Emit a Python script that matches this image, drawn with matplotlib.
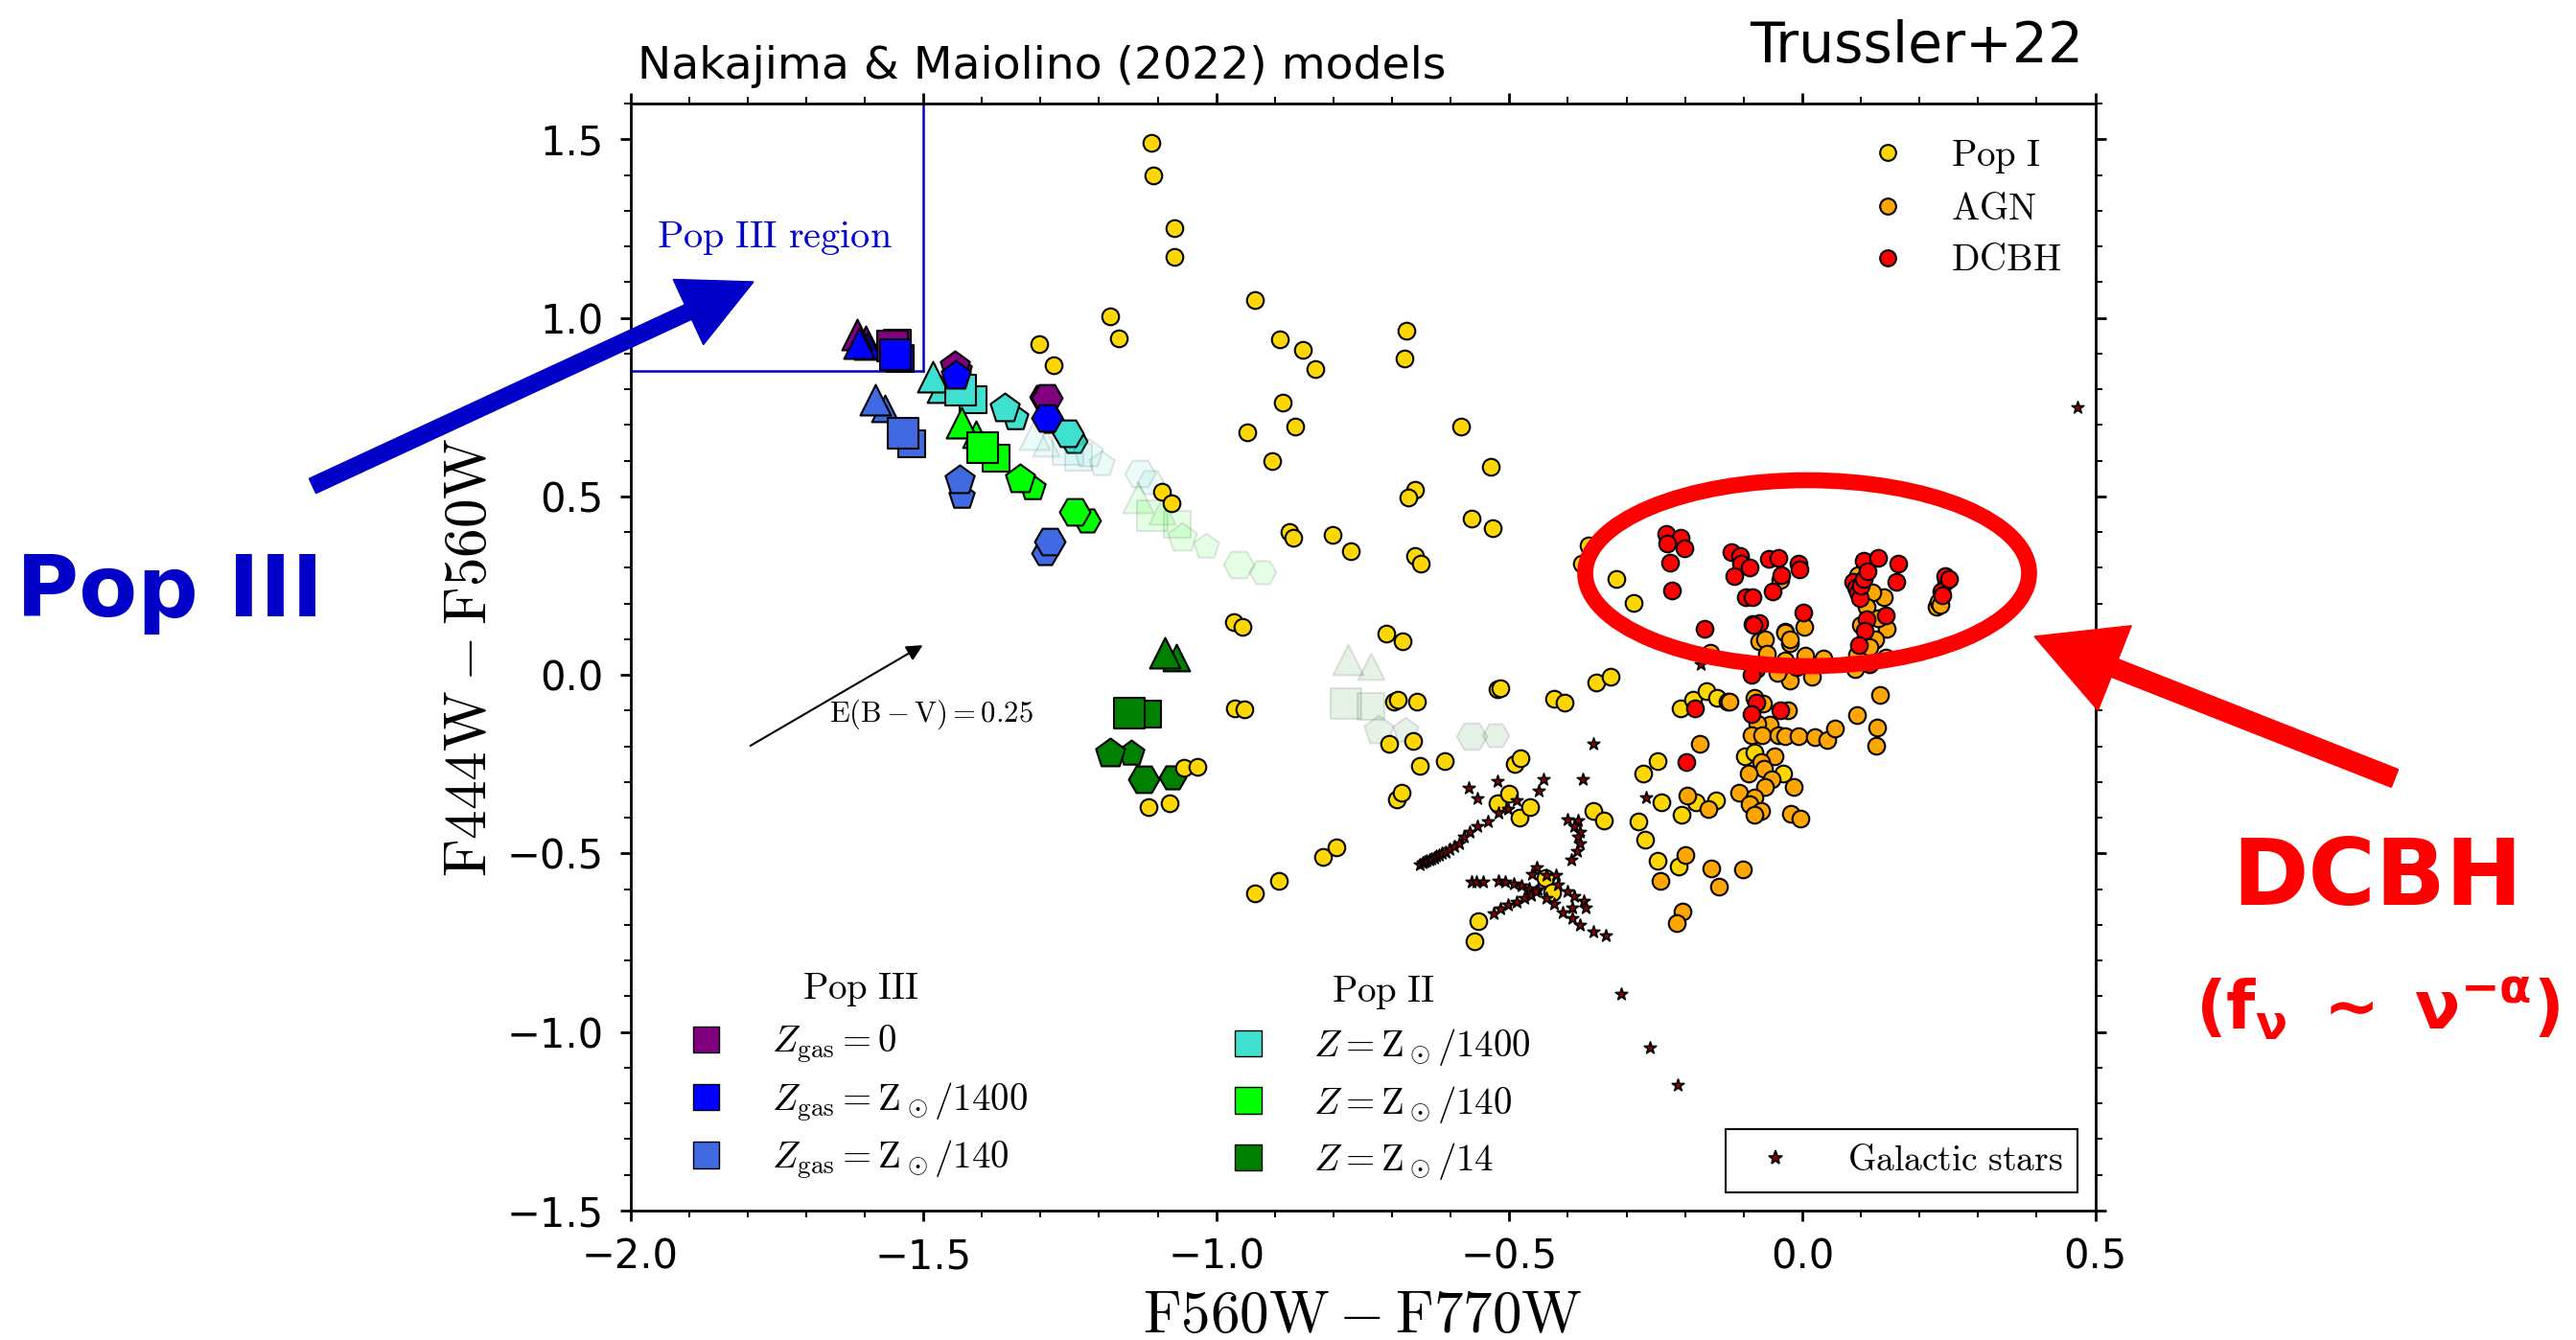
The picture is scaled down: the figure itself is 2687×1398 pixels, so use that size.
import numpy as np
import matplotlib.pyplot as plt
from matplotlib.patches import Ellipse, FancyArrow, Patch
from matplotlib.lines import Line2D
from matplotlib.ticker import MultipleLocator

plt.rcParams['mathtext.fontset'] = 'cm'

# --- model grids (Nakajima & Maiolino 2022); order of each list: triangle, square, pentagon, hexagon
MODEL_MARKERS = ['^', 's', 'p', 'H']

pop3_z0_main = [(-1.613, 0.952), (-1.553, 0.922), (-1.447, 0.865), (-1.289, 0.775)]
pop3_z0_alt = [(-1.598, 0.940), (-1.545, 0.930), (-1.440, 0.855), (-1.296, 0.780)]
pop3_z1400_main = [(-1.610, 0.929), (-1.548, 0.897), (-1.444, 0.839), (-1.289, 0.719)]
pop3_z1400_alt = [(-1.595, 0.920), (-1.540, 0.885), (-1.440, 0.830), (-1.283, 0.712)]
pop3_z140_main = [(-1.582, 0.772), (-1.534, 0.676), (-1.438, 0.546), (-1.284, 0.373)]
pop3_z140_alt = [(-1.565, 0.746), (-1.520, 0.648), (-1.434, 0.500), (-1.293, 0.340)]

pop2_z1400_main = [(-1.484, 0.834), (-1.436, 0.798), (-1.361, 0.746), (-1.253, 0.678)]
pop2_z1400_alt = [(-1.471, 0.800), (-1.415, 0.772), (-1.343, 0.721), (-1.243, 0.654)]
pop2_z140_main = [(-1.434, 0.705), (-1.399, 0.636), (-1.335, 0.549), (-1.241, 0.457)]
pop2_z140_alt = [(-1.411, 0.675), (-1.376, 0.608), (-1.314, 0.523), (-1.220, 0.433)]
pop2_z14_main = [(-1.088, 0.063), (-1.148, -0.107), (-1.181, -0.221), (-1.124, -0.293)]
pop2_z14_alt = [(-1.068, 0.050), (-1.118, -0.109), (-1.145, -0.219), (-1.075, -0.286)]

# faint (transparent) Pop II tracks
pop2_z1400_faint_main = [(-1.311, 0.674), (-1.253, 0.630), (-1.219, 0.620), (-1.130, 0.563)]
pop2_z1400_faint_alt = [(-1.290, 0.650), (-1.235, 0.610), (-1.196, 0.591), (-1.113, 0.540)]
pop2_z140_faint_main = [(-1.133, 0.497), (-1.110, 0.445), (-1.058, 0.384), (-0.962, 0.309)]
pop2_z140_faint_alt = [(-1.093, 0.460), (-1.067, 0.422), (-1.017, 0.361), (-0.921, 0.287)]
pop2_z14_faint_main = [(-0.775, 0.043), (-0.779, -0.080), (-0.723, -0.154), (-0.565, -0.172)]
pop2_z14_faint_alt = [(-0.737, 0.025), (-0.736, -0.087), (-0.677, -0.156), (-0.524, -0.169)]

# --- Trussler+22 points
pop1_pts = [
    (-1.111, 1.491), (-1.107, 1.400), (-1.072, 1.250), (-1.072, 1.172), (-0.934, 1.050),
    (-1.182, 1.003), (-1.166, 0.943), (-1.302, 0.926), (-1.278, 0.868), (-0.892, 0.941),
    (-0.853, 0.910), (-0.831, 0.857), (-0.676, 0.965), (-0.679, 0.885), (-0.886, 0.764),
    (-0.865, 0.696), (-0.947, 0.680), (-0.904, 0.600), (-0.583, 0.695), (-0.531, 0.582),
    (-0.661, 0.518), (-0.673, 0.498), (-0.564, 0.438), (-0.529, 0.410), (-1.093, 0.514),
    (-1.076, 0.482), (-0.875, 0.401), (-0.868, 0.384), (-0.802, 0.392), (-0.770, 0.346),
    (-0.661, 0.334), (-0.651, 0.312), (-0.970, 0.148), (-0.956, 0.135), (-0.710, 0.117),
    (-0.682, 0.095), (-0.521, -0.040), (-0.515, -0.036), (-0.968, -0.093), (-0.952, -0.097),
    (-0.697, -0.075), (-0.690, -0.069), (-0.658, -0.075), (-0.705, -0.193), (-0.665, -0.185),
    (-0.653, -0.255), (-0.611, -0.241), (-0.491, -0.250), (-0.481, -0.232), (-1.055, -0.259),
    (-1.032, -0.257), (-1.116, -0.370), (-1.080, -0.359), (-0.692, -0.349), (-0.684, -0.330),
    (-0.521, -0.360), (-0.501, -0.333), (-0.482, -0.400), (-0.464, -0.369), (-0.818, -0.510),
    (-0.795, -0.483), (-0.934, -0.611), (-0.893, -0.577), (-0.553, -0.689), (-0.560, -0.745),
    (-0.356, -0.381), (-0.338, -0.407), (-0.280, -0.409), (-0.269, -0.461), (-0.271, -0.275),
    (-0.247, -0.241), (-0.240, -0.357), (-0.206, -0.391), (-0.181, -0.357), (-0.148, -0.351),
    (-0.247, -0.521), (-0.211, -0.537), (-0.439, -0.570), (-0.427, -0.609), (-0.351, -0.020),
    (-0.327, -0.006), (-0.423, -0.067), (-0.405, -0.078), (-0.208, -0.094), (-0.187, -0.069),
    (-0.164, -0.044), (-0.146, -0.065), (-0.098, -0.228), (-0.081, -0.217), (-0.033, -0.275),
    (-0.318, 0.269), (-0.288, 0.203), (-0.365, 0.362), (-0.377, 0.313),
]

agn_pts = [
    (-0.157, 0.063), (-0.127, -0.076), (-0.175, -0.193), (-0.196, -0.338), (-0.161, -0.376),
    (-0.199, -0.503), (-0.242, -0.577), (-0.156, -0.542), (-0.142, -0.593), (-0.205, -0.662),
    (-0.214, -0.694), (-0.102, -0.545), (-0.074, 0.094), (-0.063, 0.099), (-0.029, 0.121),
    (-0.022, 0.088), (0.003, 0.135), (0.005, 0.054), (0.036, 0.045), (-0.029, 0.038),
    (-0.041, 0.010), (0.017, -0.005), (-0.022, -0.015), (-0.082, -0.065), (-0.067, -0.081),
    (-0.025, -0.098), (-0.055, -0.139), (-0.077, -0.136), (-0.087, -0.169), (-0.068, -0.169),
    (-0.041, -0.169), (-0.029, -0.172), (-0.006, -0.172), (0.022, -0.175), (0.043, -0.181),
    (0.055, -0.150), (-0.047, -0.228), (-0.070, -0.244), (-0.066, -0.262), (-0.052, -0.293),
    (-0.064, -0.313), (-0.015, -0.313), (-0.092, -0.275), (-0.108, -0.329), (-0.082, -0.342),
    (-0.090, -0.363), (-0.070, -0.382), (-0.082, -0.391), (-0.019, -0.389), (-0.003, -0.402),
    (0.093, -0.112), (0.127, -0.148), (0.126, -0.197), (0.132, -0.056), (0.142, 0.049),
    (0.093, 0.058), (0.090, 0.016), (0.144, 0.128), (0.123, 0.097), (0.139, 0.217),
    (0.125, 0.101), (0.115, 0.079), (0.229, 0.191), (0.232, 0.204), (-0.038, 0.267),
    (-0.030, 0.119), (-0.030, 0.040), (-0.042, 0.007), (-0.125, -0.075), (0.095, 0.280),
    (0.120, 0.230), (0.110, 0.190), (0.130, 0.160), (0.100, 0.140), (0.235, 0.195),
    (-0.022, 0.100), (-0.060, 0.060),
]

dcbh_pts = [
    (-0.233, 0.395), (-0.208, 0.385), (-0.231, 0.369), (-0.201, 0.354), (-0.225, 0.315),
    (-0.222, 0.236), (-0.167, 0.130), (-0.121, 0.344), (-0.107, 0.334), (-0.104, 0.311),
    (-0.090, 0.302), (-0.116, 0.277), (-0.097, 0.217), (-0.085, 0.217), (-0.057, 0.325),
    (-0.041, 0.327), (-0.036, 0.280), (-0.007, 0.311), (-0.005, 0.296), (-0.051, 0.235),
    (0.002, 0.175), (-0.085, 0.143), (-0.074, 0.146), (-0.010, 0.022), (-0.078, 0.016),
    (-0.087, 0.001), (-0.078, -0.078), (-0.087, -0.109), (-0.038, -0.100), (-0.183, -0.094),
    (-0.198, -0.244), (-0.084, 0.139), (0.104, 0.320), (0.129, 0.327), (0.164, 0.311),
    (0.087, 0.260), (0.092, 0.245), (0.095, 0.230), (0.098, 0.215), (0.100, 0.250),
    (0.160, 0.262), (0.142, 0.168), (0.109, 0.155), (0.106, 0.124), (0.097, 0.083),
    (0.115, 0.031), (0.245, 0.264), (0.243, 0.278), (0.237, 0.235), (0.239, 0.222),
    (0.250, 0.270), (0.105, 0.270), (0.112, 0.290),
]

galactic_stars = [
    (-0.652, -0.530), (-0.648, -0.527), (-0.645, -0.524), (-0.641, -0.521), (-0.637, -0.518),
    (-0.633, -0.515), (-0.629, -0.511), (-0.625, -0.508), (-0.620, -0.504), (-0.615, -0.500),
    (-0.609, -0.495), (-0.602, -0.489), (-0.594, -0.481), (-0.586, -0.471), (-0.578, -0.454),
    (-0.567, -0.440), (-0.554, -0.425), (-0.537, -0.409),
    (-0.569, -0.317), (-0.555, -0.345), (-0.521, -0.297), (-0.442, -0.293), (-0.450, -0.324),
    (-0.488, -0.351), (-0.502, -0.375), (-0.519, -0.387), (-0.374, -0.293), (-0.267, -0.342),
    (-0.357, -0.194), (-0.174, 0.030), (0.470, 0.750), (-0.310, -0.893), (-0.260, -1.043),
    (-0.212, -1.148),
    (-0.400, -0.405), (-0.382, -0.407), (-0.390, -0.423), (-0.379, -0.440), (-0.382, -0.454),
    (-0.379, -0.472), (-0.384, -0.494), (-0.395, -0.517),
    (-0.565, -0.579), (-0.556, -0.579), (-0.545, -0.579), (-0.518, -0.577), (-0.507, -0.579),
    (-0.493, -0.584), (-0.479, -0.590), (-0.466, -0.597), (-0.452, -0.602), (-0.526, -0.667),
    (-0.515, -0.655), (-0.502, -0.644), (-0.488, -0.635), (-0.474, -0.626), (-0.463, -0.617),
    (-0.455, -0.606), (-0.453, -0.539), (-0.461, -0.557), (-0.436, -0.560), (-0.421, -0.560),
    (-0.417, -0.588), (-0.436, -0.624), (-0.423, -0.642), (-0.409, -0.664), (-0.392, -0.682),
    (-0.379, -0.700), (-0.356, -0.718), (-0.335, -0.731), (-0.400, -0.606), (-0.390, -0.620),
    (-0.373, -0.633), (-0.370, -0.651), (-0.392, -0.651),
]

pop3_labels = [r'$Z_{\rm gas} = 0$', r'$Z_{\rm gas} = {\rm Z}_\odot/1400$',
               r'$Z_{\rm gas} = {\rm Z}_\odot/140$']
pop2_labels = [r'$Z = {\rm Z}_\odot/1400$', r'$Z = {\rm Z}_\odot/140$',
               r'$Z = {\rm Z}_\odot/14$']
pop3_colors = ['purple', 'blue', 'royalblue']
pop2_colors = ['turquoise', 'lime', 'green']


def draw_models(ax, main, alt, color, alpha=1.0, size=23):
    # the offset copy sits behind and is a bit smaller
    for pts, ms, z in [(alt, size - 3, 2), (main, size, 3)]:
        for (x, y), m in zip(pts, MODEL_MARKERS):
            ax.scatter([x], [y], marker=m, s=ms ** 2, c=color, edgecolors='k',
                       linewidths=1.5, alpha=alpha, zorder=z)


fig = plt.figure(figsize=(26.87, 13.98), dpi=100)
ax = fig.add_axes([0.2447, 0.0966, 0.5687, 0.8261])

# faint tracks first
draw_models(ax, pop2_z1400_faint_main, pop2_z1400_faint_alt, 'turquoise', alpha=0.1)
draw_models(ax, pop2_z140_faint_main, pop2_z140_faint_alt, 'lime', alpha=0.1)
draw_models(ax, pop2_z14_faint_main, pop2_z14_faint_alt, 'green', alpha=0.1)

draw_models(ax, pop3_z140_main, pop3_z140_alt, 'royalblue')
draw_models(ax, pop2_z14_main, pop2_z14_alt, 'green')
draw_models(ax, pop2_z140_main, pop2_z140_alt, 'lime')
draw_models(ax, pop2_z1400_main, pop2_z1400_alt, 'turquoise')
draw_models(ax, pop3_z0_main, pop3_z0_alt, 'purple')
draw_models(ax, pop3_z1400_main, pop3_z1400_alt, 'blue')

p1 = np.array(pop1_pts)
agn = np.array(agn_pts)
dc = np.array(dcbh_pts)
gs = np.array(galactic_stars)
ax.scatter(p1[:, 0], p1[:, 1], s=160, c='gold', edgecolors='k', linewidths=1.5, zorder=4)
ax.scatter(agn[:, 0], agn[:, 1], s=160, c='orange', edgecolors='k', linewidths=1.5, zorder=5)
ax.scatter(dc[:, 0], dc[:, 1], s=160, c='red', edgecolors='k', linewidths=1.5, zorder=6)
ax.scatter(gs[:, 0], gs[:, 1], s=90, marker='*', c='darkred', edgecolors='k',
           linewidths=1.2, zorder=7)

# Pop III region box
ax.plot([-1.5, -1.5], [0.85, 1.6], color='mediumblue', lw=1.8, zorder=1)
ax.plot([-2.0, -1.5], [0.85, 0.85], color='mediumblue', lw=1.8, zorder=1)
ax.text(-1.955, 1.198, r'$\rm Pop\ III\ region$', color='mediumblue', fontsize=29,
        va='baseline')

# reddening vector
ax.annotate('', xy=(-1.497, 0.087), xytext=(-1.799, -0.202),
            arrowprops=dict(arrowstyle='-|>', color='k', lw=1.5, mutation_scale=25))
ax.text(-1.66, -0.11, r'$\rm E(B-V) = 0.25$', fontsize=22, va='center')

ax.set_xlim(-2.0, 0.5)
ax.set_ylim(-1.5, 1.6)
ax.xaxis.set_major_locator(MultipleLocator(0.5))
ax.xaxis.set_minor_locator(MultipleLocator(0.1))
ax.yaxis.set_major_locator(MultipleLocator(0.5))
ax.yaxis.set_minor_locator(MultipleLocator(0.1))
ax.tick_params(which='both', direction='out', top=True, right=True, labelsize=30)
ax.tick_params(which='major', length=8, width=2, pad=12)
ax.tick_params(which='minor', length=4.7, width=1.4)
for sp in ax.spines.values():
    sp.set_linewidth(2)

ax.set_xlabel(r'$\mathrm{F560W-F770W}$', fontsize=44)
ax.set_ylabel(r'$\mathrm{F444W-F560W}$', fontsize=44)
ax.xaxis.set_label_coords(0.5, -0.07)
ax.yaxis.set_label_coords(-0.09, 0.5)

# legends
circ = [Line2D([], [], ls='none', marker='o', ms=12, mfc=c, mec='k', mew=1.5)
        for c in ['gold', 'orange', 'red']]
leg1 = ax.legend(circ, [r'$\rm Pop\ I$', r'$\rm AGN$', r'$\rm DCBH$'], loc='upper right',
                 frameon=False, fontsize=28, handlelength=1.0, handletextpad=1.2,
                 labelspacing=0.4)
ax.add_artist(leg1)

h3 = [Patch(fc=c, ec='k', lw=1) for c in pop3_colors]
leg3 = ax.legend(h3, pop3_labels, title=r'$\rm Pop\ III$', title_fontsize=28, fontsize=28,
                 frameon=False, handlelength=0.7, handleheight=0.7, handletextpad=1.4,
                 labelspacing=0.42, loc='upper left', bbox_to_anchor=(0.02, 0.248))
ax.add_artist(leg3)

h2 = [Patch(fc=c, ec='k', lw=1) for c in pop2_colors]
leg2 = ax.legend(h2, pop2_labels, title=r'$\rm Pop\ II$', title_fontsize=28, fontsize=28,
                 frameon=False, handlelength=0.7, handleheight=0.7, handletextpad=1.4,
                 labelspacing=0.42, loc='upper left', bbox_to_anchor=(0.39, 0.245))
ax.add_artist(leg2)

hs = [Line2D([], [], ls='none', marker='*', ms=11, mfc='darkred', mec='k', mew=1.2)]
leg4 = ax.legend(hs, [r'$\rm Galactic\ stars$'], loc='lower right', fontsize=27,
                 fancybox=False, edgecolor='k', framealpha=1, handlelength=2.0,
                 handletextpad=1.0)
leg4.get_frame().set_linewidth(1.5)

# annotations outside the axes
fig.text(0.2475, 0.9413, 'Nakajima & Maiolino (2022) models', fontsize=34, va='baseline')
fig.text(0.8087, 0.9535, 'Trussler+22', fontsize=42, ha='right', va='baseline')
fig.text(0.0063, 0.540, 'Pop III', fontsize=64, fontweight='bold', color='#0000c8',
         va='baseline')
fig.text(0.923, 0.3247, 'DCBH', fontsize=69, fontweight='bold', color='red', ha='center',
         va='baseline')
fig.text(0.923, 0.232, r'$\mathbf{(f_{\nu}\ \sim\ \nu^{-\alpha})}$', fontsize=50,
         color='red', ha='center', va='baseline', math_fontfamily='dejavusans')

fig.add_artist(Ellipse((18.85, 8.00), 4.63, 1.94, transform=fig.dpi_scale_trans,
                       fill=False, ec='red', lw=12, zorder=10))
fig.add_artist(FancyArrow(3.26, 8.91, 4.60, 2.13, width=0.17, head_width=0.75,
                          head_length=0.75, length_includes_head=True, color='#0000c8',
                          transform=fig.dpi_scale_trans, zorder=10))
fig.add_artist(FancyArrow(24.98, 5.86, -3.76, 1.48, width=0.2, head_width=0.95,
                          head_length=0.9, length_includes_head=True, color='red',
                          transform=fig.dpi_scale_trans, zorder=10))

fig.savefig('out.png', dpi=100)
